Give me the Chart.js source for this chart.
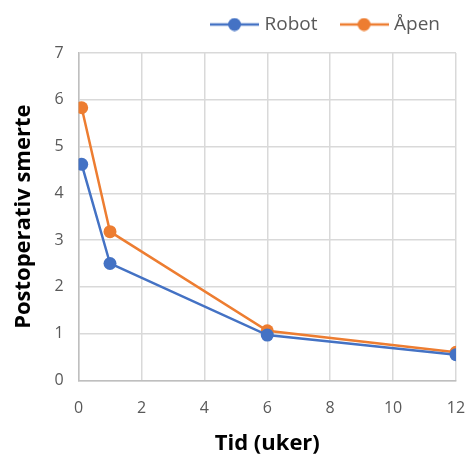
<!DOCTYPE html>
<html>
<head>
<meta charset="utf-8">
<script src="https://cdn.jsdelivr.net/npm/chart.js@4/dist/chart.umd.min.js"></script>
<style>
  html, body { margin: 0; padding: 0; background: #fff; }
  #wrap { width: 467px; height: 457px; }
</style>
</head>
<body>
<div id="wrap"><canvas id="c" width="467" height="457"></canvas></div>
<script>
const weeks = [0.1, 1, 6, 12];
const robot = [4.62, 2.5, 0.97, 0.55];
const apen = [5.83, 3.18, 1.06, 0.6];
const seriesNames = ['Robot', 'Åpen'];
const xTitle = 'Tid (uker)';
const yTitle = 'Postoperativ smerte';

const blue = '#4472c4';
const orange = '#ed7d31';
const font = "'Open Sans', 'Liberation Sans', sans-serif";

// legend icon: short line with a dot in the middle
function legendIcon(color) {
  const cv = document.createElement('canvas');
  cv.width = 49; cv.height = 14;
  const g = cv.getContext('2d');
  g.strokeStyle = color; g.lineWidth = 2.5;
  g.beginPath(); g.moveTo(0, 7); g.lineTo(49, 7); g.stroke();
  g.fillStyle = color;
  g.beginPath(); g.arc(24.5, 7, 6.5, 0, Math.PI * 2); g.fill();
  return cv;
}

// legend spacing tweaks (height under it, position)
const legendTweak = {
  id: 'legendTweak',
  beforeInit(chart) {
    const fit = chart.legend.fit;
    chart.legend.fit = function () {
      fit.bind(chart.legend)();
      this.height -= 4;
    };
  },
  afterLayout(chart) {
    chart.legend.right -= 1;
    chart.legend.top -= 13;
  }
};

const toPts = ys => weeks.map((x, i) => ({ x, y: ys[i] }));

new Chart(document.getElementById('c'), {
  type: 'line',
  data: {
    datasets: [
      { label: seriesNames[0], data: toPts(robot), borderColor: blue, backgroundColor: blue,
        borderWidth: 2.5, pointRadius: 6.5, pointHoverRadius: 6.5, pointBorderWidth: 0, tension: 0 },
      { label: seriesNames[1], data: toPts(apen), borderColor: orange, backgroundColor: orange,
        borderWidth: 2.5, pointRadius: 6.5, pointHoverRadius: 6.5, pointBorderWidth: 0, tension: 0 }
    ]
  },
  plugins: [legendTweak],
  options: {
    responsive: false,
    animation: false,
    layout: { padding: { left: 7, right: 0, top: 2, bottom: 0 } },
    plugins: {
      tooltip: { enabled: false },
      legend: {
        align: 'end',
        labels: {
          font: { family: font, size: 19 },
          color: '#595959',
          usePointStyle: true,
          pointStyleWidth: 41,
          boxHeight: 14,
          padding: 26,
          generateLabels(chart) {
            return chart.data.datasets.map((ds, i) => ({
              text: ds.label,
              pointStyle: legendIcon(ds.borderColor),
              fontColor: '#595959',
              lineWidth: 0,
              datasetIndex: i
            }));
          }
        }
      }
    },
    scales: {
      x: {
        type: 'linear', min: 0, max: 12,
        ticks: { stepSize: 2, font: { family: font, size: 16 }, color: '#595959', padding: 18 },
        grid: { color: '#d9d9d9', lineWidth: 1.5, drawTicks: false },
        border: { color: '#bfbfbf', width: 1.5 },
        title: { display: true, text: xTitle, font: { family: font, size: 22, weight: 'bold' }, color: '#000', padding: { top: -5, bottom: 0 } },
        afterFit(scale) {
          scale.paddingRight = 11;
        }
      },
      y: {
        min: 0, max: 7,
        ticks: { stepSize: 1, font: { family: font, size: 16 }, color: '#595959', padding: 15 },
        grid: { color: '#d9d9d9', lineWidth: 1.5, drawTicks: false },
        border: { color: '#bfbfbf', width: 1.5 },
        title: { display: true, text: yTitle, font: { family: font, size: 22, weight: 'bold' }, color: '#000', padding: { bottom: 2 } }
      }
    }
  }
});
</script>
</body>
</html>
